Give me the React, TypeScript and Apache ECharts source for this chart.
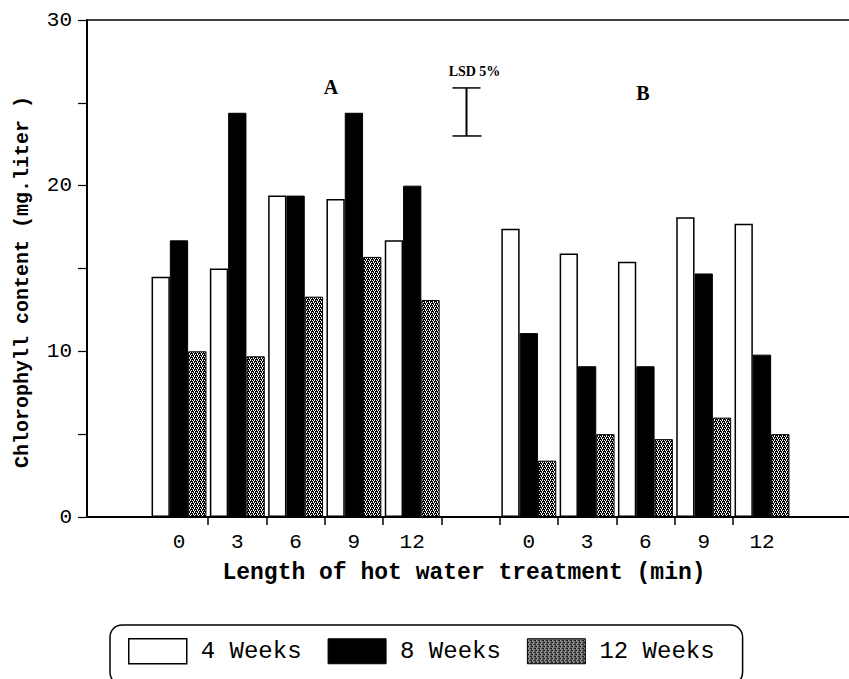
import React, { useEffect, useRef } from "react";
import * as echarts from "echarts";

// ---- data ----
const categories = ["0", "3", "6", "9", "12", "", "0", "3", "6", "9", "12"];
const weeks4 = [14.5, 15.0, 19.4, 19.2, 16.7, null, 17.4, 15.9, 15.4, 18.1, 17.7];
const weeks8 = [16.7, 24.4, 19.4, 24.4, 20.0, null, 11.1, 9.1, 9.1, 14.7, 9.8];
const weeks12 = [10.0, 9.7, 13.3, 15.7, 13.1, null, 3.4, 5.0, 4.7, 6.0, 5.0];
const seriesNames = ["4 Weeks", "8 Weeks", "12 Weeks"];
const yMin = 0;
const yMax = 30;
const yStep = 5;
const yLabelStep = 10;
// LSD bar: category index of the gap, low and high values
const lsdData = [[5, 23.0, 25.9]];
const lsdLabel = "LSD 5%";
const panelLabels = ["A", "B"];
// tick slots between groups (boundaries 1..10)
const tickSlots = categories.slice(1);

function makeHatch(): string {
  const c = document.createElement("canvas");
  c.width = 4;
  c.height = 4;
  const ctx = c.getContext("2d")!;
  ctx.fillStyle = "#000";
  ctx.fillRect(0, 0, 4, 4);
  ctx.fillStyle = "#ffffff";
  const pts = [
    [0, 0], [2, 0], [1, 1], [3, 2], [1, 2], [2, 3],
  ];
  pts.forEach(([x, y]) => ctx.fillRect(x, y, 1, 1));
  return c.toDataURL();
}

const FONT_MONO = '"Liberation Mono", "DejaVu Sans Mono", monospace';
const FONT_SERIF = '"Liberation Serif", "DejaVu Serif", serif';

export default function App() {
  const ref = useRef<HTMLDivElement>(null);

  useEffect(() => {
    if (!ref.current) return;
    const chart = echarts.init(ref.current, undefined, { renderer: "svg" });
    const hatch = {
      image: makeHatch(),
      repeat: "repeat",
      imageWidth: 4,
      imageHeight: 4,
    };

    const gridTop = 20;
    const gridBottom = 162;
    const barW = 18.3;

    const styles = [
      { color: "#ffffff", borderColor: "#000", borderWidth: 1.5 },
      { color: "#000000", borderColor: "#000", borderWidth: 1 },
      { color: hatch as any, borderColor: "#000", borderWidth: 1 },
    ];
    const values = [weeks4, weeks8, weeks12];

    const option: any = {
      animation: false,
      backgroundColor: "#fff",
      grid: [
        { left: 87, right: 0, top: gridTop, bottom: gridBottom },
        { left: 149.85, right: 57.85, top: gridTop, bottom: gridBottom },
        { left: 208.15, right: 116.15, top: gridTop, bottom: gridBottom },
      ],
      xAxis: [
        {
          gridIndex: 0,
          type: "value",
          min: 0,
          max: 1,
          axisLine: { show: true, onZero: false, lineStyle: { color: "#000", width: 2 } },
          axisTick: { show: false },
          axisLabel: { show: false },
          splitLine: { show: false },
        },
        {
          gridIndex: 0,
          type: "value",
          position: "top",
          min: 0,
          max: 1,
          axisLine: { show: true, onZero: false, lineStyle: { color: "#000", width: 1.5 } },
          axisTick: { show: false },
          axisLabel: { show: false },
          splitLine: { show: false },
        },
        {
          gridIndex: 1,
          type: "category",
          data: categories,
          axisLine: { show: false },
          axisTick: { show: false },
          axisLabel: {
            interval: 0,
            color: "#000",
            fontFamily: FONT_MONO,
            fontSize: 21,
            margin: 15,
          },
          splitLine: { show: false },
        },
        {
          gridIndex: 2,
          type: "category",
          data: tickSlots,
          boundaryGap: false,
          axisLine: { show: false },
          axisTick: {
            show: true,
            interval: 0,
            length: 8,
            lineStyle: { color: "#000", width: 1.5 },
          },
          axisLabel: { show: false },
          splitLine: { show: false },
        },
      ],
      yAxis: [
        {
          gridIndex: 0,
          type: "value",
          min: yMin,
          max: yMax,
          interval: yStep,
          axisLine: { show: true, lineStyle: { color: "#000", width: 2 } },
          axisTick: { show: true, length: 9, lineStyle: { color: "#000", width: 1.2 } },
          axisLabel: {
            color: "#000",
            fontFamily: FONT_MONO,
            fontSize: 21,
            margin: 15,
            formatter: (v: number) => (v % yLabelStep === 0 ? String(v) : ""),
          },
          splitLine: { show: false },
        },
        { gridIndex: 1, type: "value", min: yMin, max: yMax, show: false },
        { gridIndex: 2, type: "value", min: yMin, max: yMax, show: false },
      ],
      legend: {
        left: 110,
        top: 625,
        orient: "horizontal",
        itemWidth: 58,
        itemHeight: 25,
        itemGap: 26,
        padding: [13, 28, 20, 18],
        borderColor: "#000",
        borderWidth: 1.5,
        borderRadius: 12,
        selectedMode: false,
        textStyle: {
          fontFamily: FONT_MONO,
          fontSize: 24,
          color: "#000",
          padding: [0, 0, 0, 9],
        },
        data: seriesNames.map((n, i) => ({
          name: n,
          icon: "rect",
          itemStyle: { ...styles[i] },
        })),
      },
      series: [
        ...seriesNames.map((n, i) => ({
          name: n,
          type: "bar",
          xAxisIndex: 2,
          yAxisIndex: 1,
          data: values[i],
          barWidth: barW,
          barGap: "0%",
          itemStyle: styles[i],
          emphasis: { disabled: true },
        })),
        {
          type: "custom",
          name: "LSD",
          xAxisIndex: 2,
          yAxisIndex: 1,
          data: lsdData,
          renderItem: (params: any, api: any) => {
            const top = api.coord([api.value(0), api.value(2)]);
            const bot = api.coord([api.value(0), api.value(1)]);
            const x = top[0] - 4;
            const half = 14;
            return {
              type: "group",
              children: [
                { type: "line", shape: { x1: x, y1: top[1], x2: x, y2: bot[1] }, style: { stroke: "#000", lineWidth: 2 } },
                { type: "line", shape: { x1: x - half, y1: top[1], x2: x + half, y2: top[1] }, style: { stroke: "#000", lineWidth: 1.5 } },
                { type: "line", shape: { x1: x - half, y1: bot[1], x2: x + half + 1, y2: bot[1] }, style: { stroke: "#000", lineWidth: 1.5 } },
                {
                  type: "text",
                  style: {
                    text: lsdLabel,
                    x: x + 8,
                    y: top[1] - 9,
                    fill: "#000",
                    font: `bold 14px ${FONT_SERIF}`,
                    align: "center",
                    verticalAlign: "bottom",
                    textAlign: "center",
                    textVerticalAlign: "bottom",
                  },
                },
              ],
            };
          },
        },
      ],
      graphic: [
        {
          type: "text",
          x: 331,
          y: 87,
          style: {
            text: panelLabels[0],
            fill: "#000",
            font: `bold 20px ${FONT_SERIF}`,
            textAlign: "center",
            textVerticalAlign: "middle",
          },
        },
        {
          type: "text",
          x: 643,
          y: 93,
          style: {
            text: panelLabels[1],
            fill: "#000",
            font: `bold 20px ${FONT_SERIF}`,
            textAlign: "center",
            textVerticalAlign: "middle",
          },
        },
        {
          type: "text",
          x: 464,
          y: 573,
          style: {
            text: "Length of hot water treatment (min)",
            fill: "#000",
            font: `bold 23px ${FONT_MONO}`,
            textAlign: "center",
            textVerticalAlign: "middle",
          },
        },
        {
          type: "text",
          x: 22,
          y: 282,
          rotation: Math.PI / 2,
          style: {
            text: "Chlorophyll content (mg.liter )",
            fill: "#000",
            font: `bold 20px ${FONT_MONO}`,
            textAlign: "center",
            textVerticalAlign: "middle",
          },
        },
      ],
    };

    chart.setOption(option);
    return () => chart.dispose();
  }, []);

  return (
    <div
      ref={ref}
      style={{ position: "fixed", left: 0, top: 0, width: 849, height: 679, background: "#fff" }}
    />
  );
}
